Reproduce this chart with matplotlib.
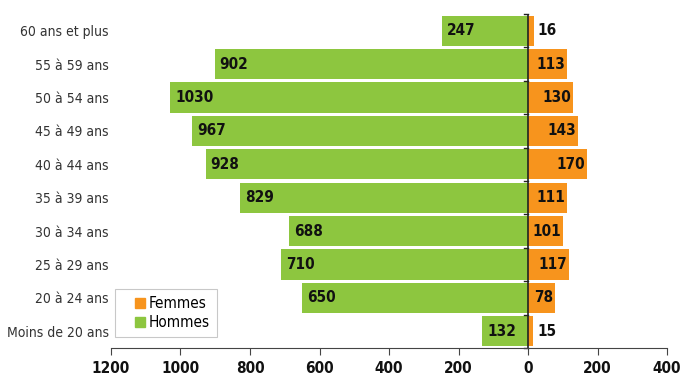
import matplotlib
matplotlib.use("Agg")
import matplotlib.pyplot as plt
from matplotlib.lines import Line2D

categories = ["Moins de 20 ans", "20 à 24 ans", "25 à 29 ans", "30 à 34 ans", "35 à 39 ans",
              "40 à 44 ans", "45 à 49 ans", "50 à 54 ans", "55 à 59 ans", "60 ans et plus"]
hommes = [132, 650, 710, 688, 829, 928, 967, 1030, 902, 247]
femmes = [15, 78, 117, 101, 111, 170, 143, 130, 113, 16]
xticks = [-1200, -1000, -800, -600, -400, -200, 0, 200, 400]
xticklabels = ["1200", "1000", "800", "600", "400", "200", "0", "200", "400"]

plt.rcParams['font.family'] = ["DejaVu Sans"]
plt.rcParams['font.stretch'] = "condensed"

green = "#8DC63F"
orange = "#F7941D"

fig = plt.figure(figsize=(6.82, 3.77), dpi=100)
ax = fig.add_axes([111 / 682, 29 / 377, 556 / 682, 334 / 377])

y = list(range(len(categories)))
ax.barh(y, [-h for h in hommes], height=0.9, color=green)
ax.barh(y, femmes, height=0.9, color=orange)

vkw = dict(va="center", fontsize=11, fontweight="bold", color="#111111", fontstretch="condensed")
for i, (h, f) in enumerate(zip(hommes, femmes)):
    ax.text(-h + 14, i, str(h), ha="left", **vkw)
    if f >= 50:
        ax.text(f - 5, i, str(f), ha="right", **vkw)
    else:
        ax.text(f + 12, i, str(f), ha="left", **vkw)

ax.set_xlim(-1200, 400)
ax.set_ylim(-0.5, 9.5)
ax.set_xticks(xticks)
ax.set_xticklabels(xticklabels, fontsize=11, fontweight="bold", color="#111111", fontstretch="condensed")
ax.set_yticks(y)
ax.set_yticklabels(categories, fontsize=10, color="#333333", fontstretch="condensed")
ax.tick_params(axis="y", length=0, pad=1.5)
ax.tick_params(axis="x", length=5, color="#444444", pad=4.5)

for s in ["top", "right", "left"]:
    ax.spines[s].set_visible(False)
ax.spines["bottom"].set_color("#444444")
ax.axvline(0, color="#222222", lw=1.2)
for b in [i - 0.5 for i in range(len(categories) + 1)]:
    ax.plot([-11, 0], [b, b], color="#222222", lw=1, clip_on=False)

handles = [Line2D([], [], ls="none", marker="s", markersize=6.5, markerfacecolor=orange,
                  markeredgecolor=orange, label="Femmes"),
           Line2D([], [], ls="none", marker="s", markersize=6.5, markerfacecolor=green,
                  markeredgecolor=green, label="Hommes")]
leg = ax.legend(handles=handles, loc="lower left", bbox_to_anchor=(0.007, 0.033),
                borderaxespad=0, frameon=True, fancybox=False, edgecolor="#bbbbbb",
                handlelength=2.41, handletextpad=-0.65, borderpad=0.46, labelspacing=0.25,
                prop=dict(family="DejaVu Sans", stretch="condensed", size=11))
leg.get_frame().set_linewidth(0.8)

fig.savefig("out.png", dpi=100)
